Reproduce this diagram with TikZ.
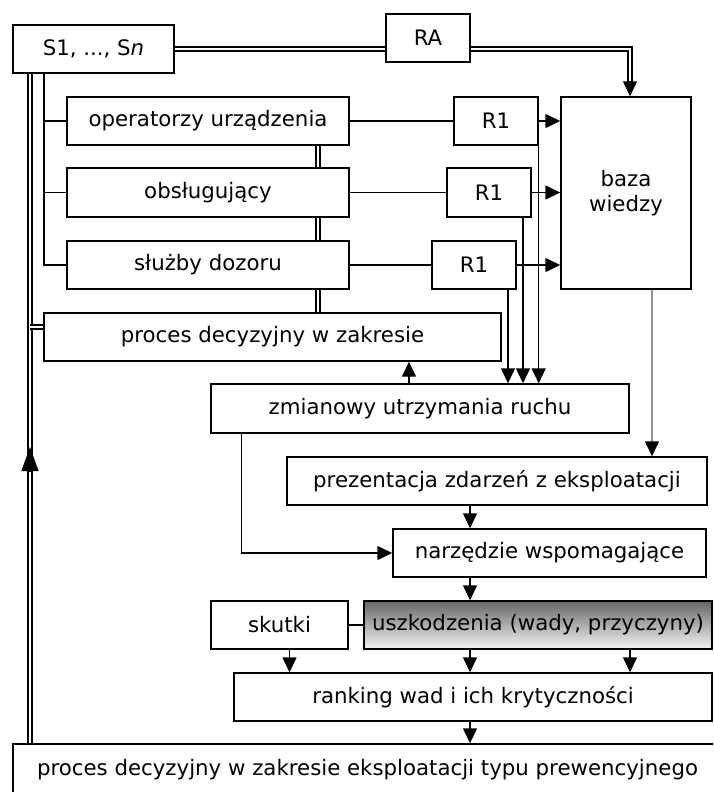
\documentclass[tikz,border=0pt]{standalone}
\usepackage{fontspec}
\setmainfont{DejaVu Sans}
\usetikzlibrary{arrows.meta}

\begin{document}
\begin{tikzpicture}[x=1pt, y=-1pt,
    font=\fontsize{21.3}{25}\selectfont,
    box/.style={draw, line width=1.4pt, inner sep=0pt, minimum height=48pt},
    link/.style={line width=1.4pt},
    arr/.style={line width=1.4pt, -{Triangle[length=15pt, width=14pt, color=black]}},
    dbl/.style={double, line width=1.7pt, double distance=2.2pt}]
    \clip (0,0) rectangle (713,792);

    % Sources, groups and reports
    \node[box, minimum width=161pt] (s) at (93.5,49) {S1, ..., S\textit{n}};
    \node[box, minimum width=84pt] (ra) at (428,38) {RA};
    \node[box, minimum width=282pt] (op) at (208,121) {operatorzy urządzenia};
    \node[box, minimum width=282pt, minimum height=49pt] (ob) at (208,192.5) {obsługujący};
    \node[box, minimum width=282pt] (sd) at (208,265) {służby dozoru};
    \node[box, minimum width=84pt] (r1a) at (496,121) {R1};
    \node[box, minimum width=84pt, minimum height=49pt] (r1b) at (489,192.5) {R1};
    \node[box, minimum width=84pt] (r1c) at (474,265) {R1};
    \node[box, minimum width=130pt, minimum height=192pt, align=center] (baza) at (626,193) {baza\\wiedzy};

    % Decision and tool chain
    \node[box, minimum width=457pt] (pd) at (272.5,337) {proces decyzyjny w zakresie};
    \node[box, minimum width=418pt, minimum height=49pt] (zm) at (420,408.5) {zmianowy utrzymania ruchu};
    \node[box, minimum width=420pt] (pr) at (497,481) {prezentacja zdarzeń z eksploatacji};
    \node[box, minimum width=313pt] (nw) at (549.5,553) {narzędzie wspomagające};
    \node[box, minimum width=137pt] (sk) at (279.5,625) {skutki};
    \node[box, minimum width=348pt, top color=black!60, bottom color=white!96!black] (us) at (538,625) {uszkodzenia (wady, przyczyny)};
    \node[box, minimum width=478pt] (rk) at (473,697) {ranking wad i ich krytyczności};
    \node[box, minimum width=709pt, minimum height=52pt] (pp) at (367.5,770) {proces decyzyjny w zakresie eksploatacji typu prewencyjnego};

    \coordinate (rail) at (30,0);
    \coordinate (tap) at (44,0);
    \coordinate (bus) at (318,0);
    \coordinate (axis) at (470,0);
    \coordinate (axis2) at (630,0);

    % Double line through RA into the base
    \coordinate (kb) at ([xshift=4pt]baza.north);
    \coordinate (kbin) at ([yshift=14pt]kb);
    \draw[dbl] (s.east) -- (s.east -| ra.west);
    \draw[dbl] (s.east -| ra.east) -| (kbin);
    \draw[arr] ([yshift=1pt]kbin) -- (kb);

    % Return rail on the left
    \coordinate (tip) at (30,447);
    \coordinate (pdin) at ([yshift=10pt]pd.west);
    \draw[dbl] (pp.north -| rail) -- (s.south -| rail);
    \draw[dbl] (pdin -| rail) -- (pdin);
    \draw[line width=1.4pt, -{Triangle[length=24pt, width=17pt]}] ([yshift=-24pt]tip) -- (tip);

    % Taps to the groups
    \draw[link] (s.south -| tap) |- (sd.west);
    \draw[link] (tap |- op.west) -- (op.west);
    \draw[link] (tap |- ob.west) -- (ob.west);

    % Bus between the groups
    \draw[dbl] (op.south -| bus) -- (ob.north -| bus);
    \draw[dbl] (ob.south -| bus) -- (sd.north -| bus);
    \draw[dbl] (sd.south -| bus) -- (pd.north -| bus);

    % Groups to reports, reports to the base
    \draw[link] (op.east) -- (r1a.west);
    \draw[link] (ob.east) -- (r1b.west);
    \draw[link] (sd.east) -- (r1c.west);
    \foreach \r in {r1a, r1b, r1c}
        \draw[arr] (\r.east) -- (\r.east -| baza.west);

    % Reports down to the shift log
    \coordinate (da) at (r1a.south east);
    \coordinate (db) at ([xshift=34pt]r1b.south);
    \coordinate (dc) at ([xshift=34pt]r1c.south);
    \foreach \d in {da, db, dc}
        \draw[arr] (\d) -- (\d |- zm.north);

    % Shift log up to the decision and down to the tool
    \coordinate (zu) at ([xshift=-11pt]zm.north);
    \coordinate (zd) at ([xshift=31pt]zm.south west);
    \draw[arr] (zu) -- (zu |- pd.south);
    \draw[arr] (zd) |- (nw.west);

    % Base to the presentation
    \coordinate (bd) at ([xshift=26pt]baza.south);
    \draw[arr, gray!85] (bd) -- (bd |- pr.north);

    % Main chain
    \draw[arr] (pr.south -| axis) -- (nw.north -| axis);
    \draw[arr] (nw.south -| axis) -- (us.north -| axis);
    \draw[link] (sk.east) -- (us.west);
    \draw[arr] ([xshift=10pt]sk.south) -- ([xshift=10pt]sk.south |- rk.north);
    \draw[arr] (us.south -| axis) -- (rk.north -| axis);
    \draw[arr] (us.south -| axis2) -- (rk.north -| axis2);
    \draw[arr] (rk.south -| axis) -- (pp.north -| axis);
\end{tikzpicture}
\end{document}
